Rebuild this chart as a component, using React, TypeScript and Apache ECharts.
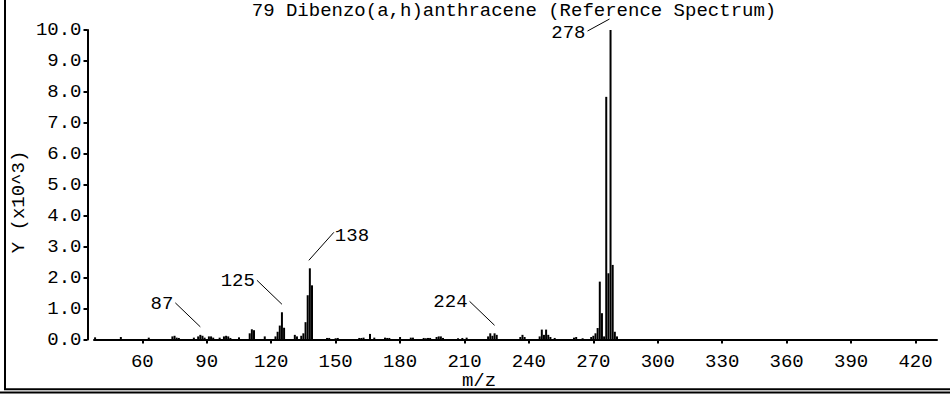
import React, { useEffect, useRef } from "react";
import * as echarts from "echarts";

// ---- data ----
const titleText = "79 Dibenzo(a,h)anthracene (Reference Spectrum)";
const xAxisTitle = "m/z";
const yAxisTitle = "Y (x10^3)";
const xTickValues = [60, 90, 120, 150, 180, 210, 240, 270, 300, 330, 360, 390, 420];
const xMin = 37.5;
const xMax = 430;
const yMin = 0;
const yMax = 10;
const yStep = 1;

// m/z values and intensities (x10^3)
const massValues = [
  38, 50, 63, 74, 75, 76, 77, 84, 86, 87, 88, 89, 91, 92, 93, 96, 98, 99, 100, 101,
  105, 110, 111, 112, 117, 122, 123, 124, 125, 126, 131, 132, 134, 135, 136, 137, 138, 139,
  146, 147, 150, 151, 161, 162, 163, 166, 168, 173, 174, 175, 180, 185, 186, 191, 192, 193,
  194, 197, 198, 199, 200, 207, 209, 211, 221, 222, 223, 224, 225, 236, 237, 238, 245, 246,
  247, 248, 249, 250, 252, 261, 262, 265, 269, 270, 271, 272, 273, 274, 275, 276, 277, 278,
  279, 280, 281,
];
const intensityValues = [
  0.07, 0.08, 0.06, 0.1, 0.12, 0.06, 0.05, 0.06, 0.1, 0.15, 0.12, 0.06, 0.1, 0.1, 0.06, 0.06, 0.1, 0.12, 0.1, 0.05,
  0.07, 0.2, 0.33, 0.3, 0.1, 0.1, 0.25, 0.45, 0.88, 0.38, 0.15, 0.1, 0.12, 0.2, 0.56, 1.43, 2.3, 1.75,
  0.05, 0.05, 0.04, 0.05, 0.05, 0.05, 0.06, 0.18, 0.06, 0.06, 0.05, 0.05, 0.08, 0.06, 0.06, 0.05, 0.04, 0.05,
  0.05, 0.08, 0.1, 0.1, 0.05, 0.04, 0.05, 0.06, 0.1, 0.2, 0.12, 0.2, 0.15, 0.08, 0.15, 0.08, 0.1, 0.32,
  0.15, 0.32, 0.15, 0.08, 0.05, 0.06, 0.08, 0.04, 0.08, 0.12, 0.2, 0.37, 1.87, 0.85, 0.1, 7.84, 2.14, 10.0,
  2.41, 0.25, 0.1,
];
const labeledPeaks = [87, 125, 138, 224, 278];

// ---- styling ----
const FONT_FAMILY = '"Liberation Mono", "DejaVu Sans Mono", monospace';
const FONT_SIZE = 19;
const FONT = `${FONT_SIZE}px ${FONT_FAMILY}`;

type Lay = { sx: number; sy: number; ex: number; ey: number; tx: number; ty: number; align: string };
const LEFT_LAY: Lay = { sx: -25, sy: -32, ex: 0, ey: -8, tx: -2, ty: 1, align: "right" };
const annotationLayout: Record<number, Lay> = {
  87: LEFT_LAY,
  125: LEFT_LAY,
  224: LEFT_LAY,
  138: { sx: 24, sy: -36, ex: -1, ey: -8, tx: 1, ty: 4, align: "left" },
  278: { sx: -23, sy: 1, ex: -1, ey: -11, tx: -2, ty: 1.5, align: "right" },
};

export default function App() {
  const ref = useRef<HTMLDivElement>(null);

  useEffect(() => {
    document.body.style.margin = "0";
    if (!ref.current) return;
    const chart = echarts.init(ref.current, undefined, { renderer: "svg" });

    const barData = massValues.map((m, i) => [m, intensityValues[i]]);
    const annData = labeledPeaks.map((m) => [m, intensityValues[massValues.indexOf(m)]]);

    const option: any = {
      animation: false,
      backgroundColor: "#fff",
      grid: { left: 94, right: 13, top: 30, bottom: 54.5, containLabel: false },
      xAxis: {
        type: "value",
        min: xMin,
        max: xMax,
        offset: 5.5,
        axisLine: { show: true, lineStyle: { color: "#000", width: 2 } },
        axisTick: { show: true, length: 4, lineStyle: { color: "#000", width: 2 }, customValues: xTickValues },
        axisLabel: {
          show: true,
          customValues: xTickValues,
          color: "#000",
          fontFamily: FONT_FAMILY,
          fontSize: FONT_SIZE,
          margin: 7,
        },
        splitLine: { show: false },
      },
      yAxis: {
        type: "value",
        min: yMin,
        max: yMax,
        interval: yStep,
        offset: 6.5,
        axisLine: { show: true, lineStyle: { color: "#000", width: 2 } },
        axisTick: { show: true, length: 4, lineStyle: { color: "#000", width: 2 } },
        axisLabel: {
          color: "#000",
          fontFamily: FONT_FAMILY,
          fontSize: FONT_SIZE,
          margin: 6,
          formatter: (v: number) => v.toFixed(1),
        },
        splitLine: { show: false },
      },
      series: [
        {
          type: "bar",
          data: barData,
          barWidth: 2,
          itemStyle: { color: "#000" },
          silent: true,
        },
        {
          type: "custom",
          data: annData,
          encode: { x: 0, y: 1 },
          clip: false,
          silent: true,
          renderItem: (params: any, api: any) => {
            const m = api.value(0);
            const v = api.value(1);
            const p = api.coord([m, v]);
            const lay = annotationLayout[m] || LEFT_LAY;
            const sx = p[0] + lay.sx;
            const sy = p[1] + lay.sy;
            const ex = p[0] + lay.ex;
            const ey = p[1] + lay.ey;
            return {
              type: "group",
              children: [
                {
                  type: "line",
                  shape: { x1: sx, y1: sy, x2: ex, y2: ey },
                  style: { stroke: "#000", lineWidth: 1 },
                },
                {
                  type: "text",
                  x: sx + lay.tx,
                  y: sy + lay.ty,
                  style: {
                    text: String(m),
                    font: FONT,
                    fill: "#000",
                    align: lay.align,
                    verticalAlign: "middle",
                  },
                },
              ],
            };
          },
        },
      ],
      graphic: [
        {
          type: "text",
          x: 514,
          y: 10.5,
          style: { text: titleText, font: FONT, fill: "#000", align: "center", verticalAlign: "middle" },
        },
        {
          type: "text",
          x: 479,
          y: 381,
          style: { text: xAxisTitle, font: FONT, fill: "#000", align: "center", verticalAlign: "middle" },
        },
        {
          type: "text",
          x: 18.5,
          y: 202,
          rotation: Math.PI / 2,
          style: { text: yAxisTitle, font: FONT, fill: "#000", align: "center", verticalAlign: "middle" },
        },
        { type: "line", shape: { x1: 5, y1: 0, x2: 5, y2: 390 }, style: { stroke: "#000", lineWidth: 2 } },
        { type: "line", shape: { x1: 4, y1: 389.2, x2: 950, y2: 389.2 }, style: { stroke: "#000", lineWidth: 2 } },
        { type: "line", shape: { x1: 0, y1: 392.5, x2: 950, y2: 392.5 }, style: { stroke: "#000", lineWidth: 2 } },
      ],
    };

    chart.setOption(option);
    return () => chart.dispose();
  }, []);

  return <div ref={ref} style={{ width: 950, height: 394 }} />;
}
